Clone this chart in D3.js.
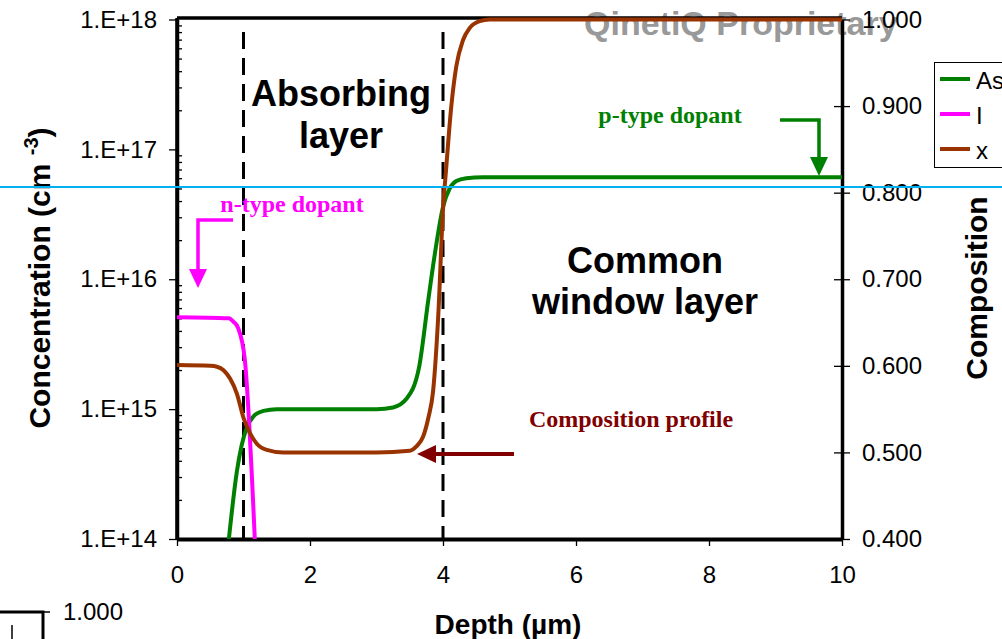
<!DOCTYPE html>
<html>
<head>
<meta charset="utf-8">
<script src="https://cdn.jsdelivr.net/npm/d3@7"></script>
<style>
  body { margin: 0; background: #fff; }
  svg { display: block; font-family: "Liberation Sans", Arial, sans-serif; }
</style>
</head>
<body>
<div id="vis"></div>
<script>
// data
const asDepth = [0.78, 0.90, 0.97, 1.05, 1.15, 1.30, 1.50, 2.0, 3.0, 3.25, 3.45, 3.64, 3.78, 3.88, 4.0, 4.1, 4.2, 4.35, 4.6, 5.0, 10.0];
const asConc  = [1.0e14, 3.3e14, 5.2e14, 7.2e14, 8.8e14, 9.7e14, 1.0e15, 1.0e15, 1.0e15, 1.03e15, 1.2e15, 2.1e15, 7.0e15, 1.6e16, 3.6e16, 5.0e16, 5.7e16, 6.0e16, 6.1e16, 6.1e16, 6.1e16];

const iDepth = [0, 0.78, 0.85, 0.92, 1.02, 1.17];
const iConc  = [5.1e15, 5.0e15, 4.7e15, 4.2e15, 2.4e15, 1.0e14];

const xDepth = [0, 0.5, 0.6, 0.7, 0.8, 0.9, 1.0, 1.1, 1.2, 1.35, 1.6, 2.0, 3.0, 3.5, 3.6, 3.7, 3.78, 3.85, 3.93, 4.0, 4.05, 4.12, 4.2, 4.3, 4.4, 4.55, 4.7, 10.0];
const xComp  = [0.601, 0.600, 0.599, 0.595, 0.585, 0.568, 0.540, 0.522, 0.510, 0.503, 0.500, 0.500, 0.500, 0.502, 0.507, 0.518, 0.540, 0.570, 0.660, 0.780, 0.830, 0.896, 0.946, 0.976, 0.990, 0.998, 1.000, 1.000];

const xTicks = [0, 2, 4, 6, 8, 10];
const concTicks = [1e14, 1e15, 1e16, 1e17, 1e18];
const compTicks = [0.4, 0.5, 0.6, 0.7, 0.8, 0.9, 1.0];

const seriesNames = ["As", "I", "x"];
const seriesColors = ["#008000", "#ff00ff", "#993300"];

const W = 1002, H = 639;
const svg = d3.select("#vis").append("svg")
    .attr("width", W)
    .attr("height", H);

svg.append("rect").attr("width", W).attr("height", H).attr("fill", "#fff");

const x = d3.scaleLinear().domain([0, 10]).range([177, 842]);
const yL = d3.scaleLog().domain([1e14, 1e18]).range([539, 19.5]);
const yR = d3.scaleLinear().domain([0.4, 1.0]).range([539, 19.5]);

// watermark sits behind the plot
svg.append("text")
    .attr("x", 584).attr("y", 35)
    .attr("font-size", 34).attr("font-weight", "bold")
    .attr("fill", "#999")
    .text("QinetiQ Proprietary");

// frame
svg.append("path")
    .attr("d", `M${x(0)},18 H${x(10)} M${x(0)},18 V${yL(1e14)}`)
    .attr("stroke", "#000").attr("stroke-width", 3.5).attr("fill", "none");

// left axis
let gL = svg.append("g").attr("transform", `translate(${x(0)},0)`)
    .call(d3.axisLeft(yL).tickValues(concTicks)
        .tickFormat(d => "1.E+" + Math.round(Math.log10(d)))
        .tickSize(8).tickSizeOuter(0).tickPadding(12));
let minor = [];
concTicks.slice(0, -1).forEach(d => { for (let k = 2; k <= 9; k++) minor.push(d * k); });
let gLm = svg.append("g").attr("transform", `translate(${x(0)},0)`)
    .call(d3.axisRight(yL).tickValues(minor).tickFormat("").tickSize(5).tickSizeOuter(0));
gLm.select(".domain").remove();

// bottom axis
let gB = svg.append("g").attr("transform", `translate(0,${yL(1e14)})`)
    .call(d3.axisBottom(x).tickValues(xTicks).tickFormat(d3.format("d"))
        .tickSize(7).tickSizeOuter(0).tickPadding(20));

// right axis
let gR = svg.append("g").attr("transform", `translate(${x(10)},0)`)
    .call(d3.axisRight(yR).tickValues(compTicks).tickFormat(d3.format(".3f"))
        .tickSize(8).tickSizeOuter(0).tickPadding(12));
gR.selectAll(".tick line").attr("x1", -8);

[gL, gB, gR].forEach(g => {
    g.select(".domain").attr("stroke-width", 3.5);
    g.selectAll(".tick line").attr("stroke-width", 1.3);
    g.selectAll("text").attr("font-size", 24).attr("font-family", "Liberation Sans, Arial, sans-serif").attr("fill", "#000");
});
gLm.selectAll(".tick line").attr("stroke-width", 1.3);
gB.select(".domain").attr("stroke-width", 4);

// dashed layer boundaries
[1, 4].forEach(d => {
    svg.append("line")
        .attr("x1", x(d)).attr("x2", x(d))
        .attr("y1", 32).attr("y2", yL(1e14))
        .attr("stroke", "#000").attr("stroke-width", 3)
        .attr("stroke-dasharray", "17,9");
});

// curves
svg.append("clipPath").attr("id", "plotclip")
    .append("rect").attr("x", x(0)).attr("y", 0)
    .attr("width", x(10) - x(0) + 2).attr("height", yL(1e14) - 0);

const lineL = d3.line().x(d => x(d[0])).y(d => yL(d[1])).curve(d3.curveMonotoneX);
const lineR = d3.line().x(d => x(d[0])).y(d => yR(d[1])).curve(d3.curveMonotoneX);

const curves = svg.append("g").attr("clip-path", "url(#plotclip)");
curves.append("path")
    .attr("d", lineL(d3.zip(asDepth, asConc)))
    .attr("fill", "none").attr("stroke", seriesColors[0]).attr("stroke-width", 4);
curves.append("path")
    .attr("d", lineL(d3.zip(iDepth, iConc)))
    .attr("fill", "none").attr("stroke", seriesColors[1]).attr("stroke-width", 4);
curves.append("path")
    .attr("d", lineR(d3.zip(xDepth, xComp)))
    .attr("fill", "none").attr("stroke", seriesColors[2]).attr("stroke-width", 4);

// layer labels
const big = svg.append("g").attr("font-size", 36).attr("font-weight", "bold")
    .attr("text-anchor", "middle").attr("fill", "#000");
big.append("text").attr("x", 341).attr("y", 106).text("Absorbing");
big.append("text").attr("x", 341).attr("y", 148).text("layer");
big.append("text").attr("x", 645).attr("y", 273).text("Common");
big.append("text").attr("x", 645).attr("y", 314).text("window layer");

// annotations
const serif = "Liberation Serif, Times New Roman, serif";
svg.append("text").attr("x", 670).attr("y", 123).attr("text-anchor", "middle")
    .attr("font-family", serif).attr("font-weight", "bold").attr("font-size", 24)
    .attr("fill", "#008000").text("p-type dopant");
svg.append("path").attr("d", "M780,120 H819 V160")
    .attr("fill", "none").attr("stroke", "#008000").attr("stroke-width", 3.5);
svg.append("path").attr("d", "M810,157 L828,157 L819,176 Z").attr("fill", "#008000");

svg.append("text").attr("x", 292).attr("y", 212).attr("text-anchor", "middle")
    .attr("font-family", serif).attr("font-weight", "bold").attr("font-size", 24)
    .attr("fill", "#ff00ff").text("n-type dopant");
svg.append("path").attr("d", "M233,220 H198 V272")
    .attr("fill", "none").attr("stroke", "#ff00ff").attr("stroke-width", 3.5);
svg.append("path").attr("d", "M189,269 L207,269 L198,288 Z").attr("fill", "#ff00ff");

svg.append("text").attr("x", 631).attr("y", 427).attr("text-anchor", "middle")
    .attr("font-family", serif).attr("font-weight", "bold").attr("font-size", 24)
    .attr("fill", "#800000").text("Composition profile");
svg.append("path").attr("d", "M434,454 H514")
    .attr("stroke", "#800000").attr("stroke-width", 4);
svg.append("path").attr("d", "M417,454 L436,445 L436,463 Z").attr("fill", "#800000");

// axis titles
svg.append("text").attr("x", 508).attr("y", 634).attr("text-anchor", "middle")
    .attr("font-size", 28).attr("font-weight", "bold").text("Depth (µm)");

const tl = svg.append("text")
    .attr("transform", "translate(50,278) rotate(-90)")
    .attr("text-anchor", "middle").attr("font-size", 30).attr("font-weight", "bold");
tl.append("tspan").text("Concentration (cm ");
tl.append("tspan").attr("font-size", 20).attr("dy", -12).text("-3");
tl.append("tspan").attr("dy", 12).text(")");

svg.append("text")
    .attr("transform", "translate(987,288) rotate(-90)")
    .attr("text-anchor", "middle").attr("font-size", 30).attr("font-weight", "bold")
    .text("Composition");

// legend
const leg = svg.append("g");
leg.append("rect").attr("x", 934.5).attr("y", 62.5).attr("width", 80).attr("height", 105)
    .attr("fill", "#fff").attr("stroke", "#000").attr("stroke-width", 1);
seriesNames.forEach((n, i) => {
    let yy = 79 + i * 35;
    leg.append("line").attr("x1", 940).attr("x2", 970).attr("y1", yy).attr("y2", yy)
        .attr("stroke", seriesColors[i]).attr("stroke-width", 4);
    leg.append("text").attr("x", 976).attr("y", yy + 10).attr("font-size", 24).text(n);
});

// clipped neighbour chart fragment at bottom left
svg.append("path").attr("d", "M0,612 H43 V639")
    .attr("fill", "none").attr("stroke", "#000").attr("stroke-width", 3);
svg.append("path").attr("d", "M43,612 H50 M12,625 V639")
    .attr("fill", "none").attr("stroke", "#000").attr("stroke-width", 1.5);
svg.append("text").attr("x", 63).attr("y", 620).attr("font-size", 24).text("1.000");

// cyan guide line across the whole slide
svg.append("line").attr("x1", 0).attr("x2", W).attr("y1", 187).attr("y2", 187)
    .attr("stroke", "#00b0f0").attr("stroke-width", 2);
</script>
</body>
</html>
